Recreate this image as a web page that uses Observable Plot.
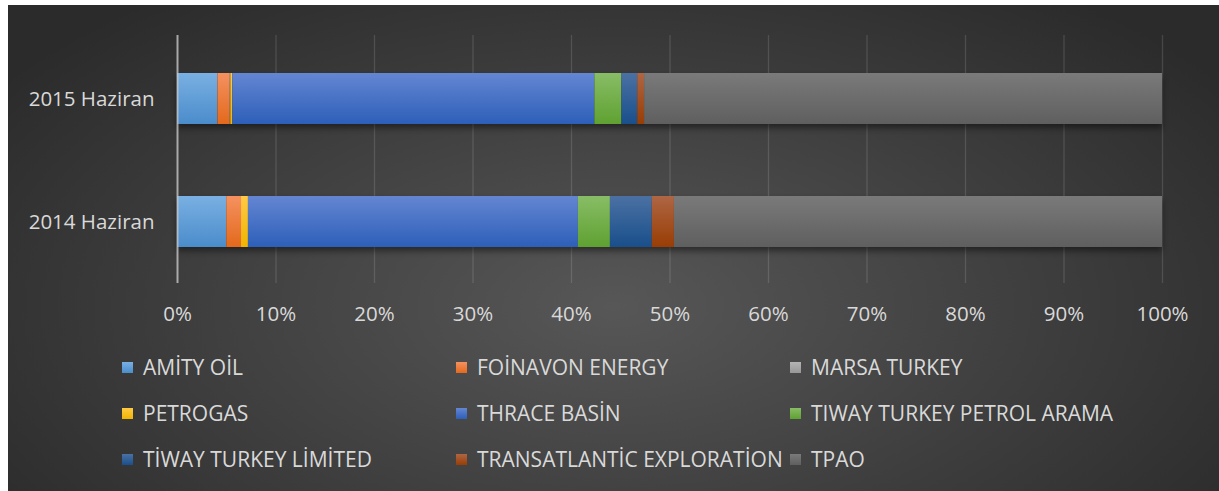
<!DOCTYPE html>
<html>
<head>
<meta charset="utf-8">
<script src="https://cdn.jsdelivr.net/npm/d3@7"></script>
<script src="https://cdn.jsdelivr.net/npm/@observablehq/plot@0.6"></script>
<style>
  html, body { margin: 0; padding: 0; background: #ffffff; width: 1219px; height: 491px; overflow: hidden; }
  #panel {
    position: absolute; left: 8px; top: 5px; width: 1211px; height: 486px;
    background: radial-gradient(ellipse 62% 80% at 50% 62%, #575757 0%, #2b2b2b 100%);
    font-family: "Open Sans", sans-serif;
  }
  #chart { position: absolute; left: 0; top: 0; }
  #chart g[aria-label="bar"] { filter: drop-shadow(0px 4px 3px rgba(0,0,0,0.45)); }
  #legend { position: absolute; left: 0; top: 0; width: 1211px; height: 486px; pointer-events: none; }
  .item { position: absolute; height: 30px; display: flex; align-items: center; color: #d9d9d9; font-size: 21px; white-space: nowrap; }
  .sw { width: 11px; height: 11px; margin-right: 10px; flex: none; }
</style>
</head>
<body>
<div id="panel">
  <div id="chart"></div>
  <div id="legend"></div>
</div>
<script>
// ---- data ----
const periods = ["2015 Haziran", "2014 Haziran"];
const companies = [
  "AMİTY OİL", "FOİNAVON ENERGY", "MARSA TURKEY",
  "PETROGAS", "THRACE BASİN", "TIWAY TURKEY PETROL ARAMA",
  "TİWAY TURKEY LİMİTED", "TRANSATLANTİC EXPLORATİON", "TPAO"
];
const share2015 = [4.1, 1.25, 0.07, 0.2, 36.75, 2.75, 1.6, 0.7, 52.58];
const share2014 = [5.0, 1.5, 0, 0.7, 33.5, 3.25, 4.25, 2.25, 49.55];
const xTicks = [0, 10, 20, 30, 40, 50, 60, 70, 80, 90, 100];

// ---- colours (top / bottom of vertical gradient) ----
const colorTop    = ["#7ab0e2", "#f59160", "#b4b4b4", "#ffca45", "#6486d2", "#88bd66", "#4b71a3", "#ae6644", "#7a7a7a"];
const colorBottom = ["#4a8ccb", "#e3691c", "#979797", "#f0b400", "#2d5fb9", "#5fa131", "#194f8b", "#993d04", "#5f5f5f"];

const rows = [];
companies.forEach((c, i) => {
  rows.push({period: periods[0], company: c, value: share2015[i]});
  rows.push({period: periods[1], company: c, value: share2014[i]});
});
rows.sort((a, b) => companies.indexOf(a.company) - companies.indexOf(b.company));

const gradIds = companies.map((c, i) => "grad" + i);

const chart = Plot.plot({
  width: 1211,
  height: 330,
  marginLeft: 169,
  marginRight: 57,
  marginTop: 30,
  marginBottom: 52,
  style: {background: "transparent", color: "#d9d9d9", fontFamily: "'Open Sans', sans-serif", fontSize: "20.5px", overflow: "visible"},
  x: {domain: [0, 100]},
  y: {domain: periods, paddingInner: 0.588, paddingOuter: 0.296, align: 0.505},
  color: {domain: companies, range: gradIds.map(id => `url(#${id})`)},
  marks: [
    Plot.gridX(xTicks, {stroke: "#ffffff", strokeOpacity: 0.13, strokeWidth: 1.3}),
    Plot.barX(rows, {x: "value", y: "period", fill: "company", order: null}),
    Plot.ruleX([0], {stroke: "#c8c8c8", strokeOpacity: 0.75, strokeWidth: 2}),
    Plot.axisX(xTicks, {tickSize: 0, tickPadding: 23, tickFormat: d => d + "%", label: null, fill: "#d9d9d9", fontSize: 20.5}),
    Plot.axisY({tickSize: 0, tickPadding: 23, label: null, fill: "#d9d9d9", fontSize: 20.5})
  ]
});

// gradient definitions
const ns = "http://www.w3.org/2000/svg";
const defs = document.createElementNS(ns, "defs");
companies.forEach((c, i) => {
  const g = document.createElementNS(ns, "linearGradient");
  g.setAttribute("id", gradIds[i]);
  g.setAttribute("x1", "0"); g.setAttribute("y1", "0");
  g.setAttribute("x2", "0"); g.setAttribute("y2", "1");
  const s1 = document.createElementNS(ns, "stop");
  s1.setAttribute("offset", "0"); s1.setAttribute("stop-color", colorTop[i]);
  const s2 = document.createElementNS(ns, "stop");
  s2.setAttribute("offset", "1"); s2.setAttribute("stop-color", colorBottom[i]);
  g.appendChild(s1); g.appendChild(s2);
  defs.appendChild(g);
});
chart.insertBefore(defs, chart.firstChild);
document.getElementById("chart").appendChild(chart);

// legend (3 columns x 3 rows)
const legend = document.getElementById("legend");
companies.forEach((c, i) => {
  const col = i % 3, row = Math.floor(i / 3);
  const item = document.createElement("div");
  item.className = "item";
  item.style.left = (114 + col * 334) + "px";
  item.style.top = (347 + row * 46) + "px";
  const sw = document.createElement("span");
  sw.className = "sw";
  sw.style.background = `linear-gradient(${colorTop[i]}, ${colorBottom[i]})`;
  const t = document.createElement("span");
  t.textContent = c;
  item.appendChild(sw); item.appendChild(t);
  legend.appendChild(item);
});
</script>
</body>
</html>
